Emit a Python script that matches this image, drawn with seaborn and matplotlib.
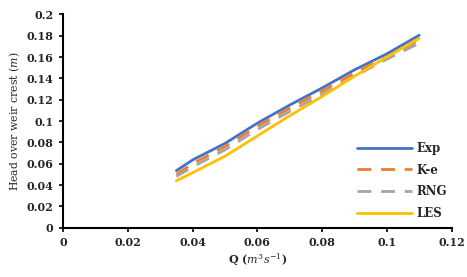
import pandas as pd
import numpy as np
import matplotlib
matplotlib.use('Agg')
import matplotlib.pyplot as plt
import seaborn as sns

# Data
q = [0.035, 0.04, 0.05, 0.06, 0.07, 0.08, 0.09, 0.10, 0.11]
exp_h = [0.0535, 0.0635, 0.079, 0.098, 0.115, 0.131, 0.148, 0.163, 0.1805]
ke_h = [0.050, 0.060, 0.076, 0.095, 0.112, 0.128, 0.145, 0.160, 0.176]
rng_h = [0.048, 0.057, 0.073, 0.092, 0.109, 0.125, 0.142, 0.158, 0.173]
les_h = [0.044, 0.0515, 0.067, 0.086, 0.105, 0.123, 0.142, 0.160, 0.1775]
series_names = ['Exp', 'K-e', 'RNG', 'LES']
x_ticks = [0, 0.02, 0.04, 0.06, 0.08, 0.1, 0.12]
y_ticks = [0, 0.02, 0.04, 0.06, 0.08, 0.1, 0.12, 0.14, 0.16, 0.18, 0.2]

sns.set_style('white')
plt.rcParams['font.family'] = ['DejaVu Serif']
plt.rcParams['mathtext.fontset'] = 'custom'
plt.rcParams['mathtext.it'] = 'DejaVu Serif:italic'
plt.rcParams['mathtext.rm'] = 'DejaVu Serif'

df = pd.DataFrame({
    'Q': q * 4,
    'H': exp_h + ke_h + rng_h + les_h,
    'Model': [n for n in series_names for _ in q],
})

palette = {'Exp': '#4472C4', 'K-e': '#ED7D31', 'RNG': '#A5A5A5', 'LES': '#FFC000'}
dashes = {'Exp': '', 'K-e': (5, 3.5), 'RNG': (5, 3.5), 'LES': ''}

fig = plt.figure(figsize=(4.67, 2.77), dpi=100)
ax = fig.add_axes([0.135, 0.178, 0.832, 0.77])
sns.lineplot(data=df, x='Q', y='H', hue='Model', style='Model',
             palette=palette, dashes=dashes, linewidth=2, ax=ax)

ax.set_xlim(0, 0.12)
ax.set_ylim(0, 0.2)
ax.set_xticks(x_ticks)
ax.set_xticklabels(['0', '0.02', '0.04', '0.06', '0.08', '0.1', '0.12'])
ax.set_yticks(y_ticks)
ax.set_yticklabels(['0', '0.02', '0.04', '0.06', '0.08', '0.1', '0.12',
                    '0.14', '0.16', '0.18', '0.2'])
for lab in ax.get_xticklabels() + ax.get_yticklabels():
    lab.set_fontweight('bold')
    lab.set_fontsize(8)

for s in ['top', 'right']:
    ax.spines[s].set_visible(False)
for s in ['left', 'bottom']:
    ax.spines[s].set_color('black')
    ax.spines[s].set_linewidth(1.5)
ax.tick_params(axis='both', direction='out', length=3, width=1.2,
               color='black', pad=4, bottom=True, left=True)

ax.set_xlabel(r'Q ($m^3s^{-1}$)', fontsize=8, fontweight='bold', labelpad=2)
ax.set_ylabel(r'Head over weir crest ($m$)', fontsize=7.8, labelpad=3)

leg = ax.legend(loc='lower right', bbox_to_anchor=(1.015, -0.015), frameon=False,
                fontsize=8.5, handlelength=4.6, labelspacing=0.75, handletextpad=0.4)
for t in leg.get_texts():
    t.set_fontweight('bold')

fig.savefig('out.png', dpi=100)
